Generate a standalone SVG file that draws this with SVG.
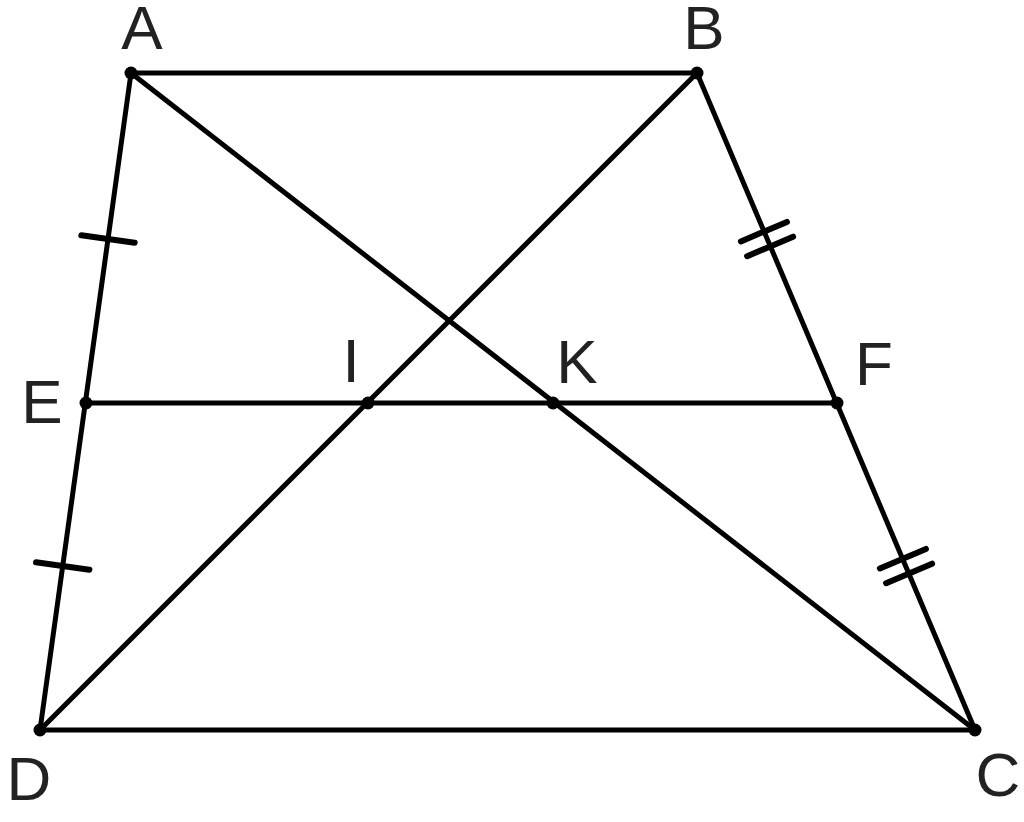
<svg xmlns="http://www.w3.org/2000/svg" width="1024" height="822" viewBox="0 0 1024 822">
<style>
.ln{stroke:#000;stroke-width:5;stroke-linecap:round;fill:none}
.tk{stroke:#000;stroke-width:6;stroke-linecap:round}
.pt{fill:#000}
.lb{font-family:"Liberation Sans",Arial,sans-serif;font-size:62px;fill:#222;text-anchor:middle}
</style>
<rect width="1024" height="822" fill="#fff"/>
<g id="connectors">
<line class="ln" x1="131" y1="73" x2="697" y2="73"/>
<line class="ln" x1="697" y1="73" x2="975" y2="730"/>
<line class="ln" x1="975" y1="730" x2="40" y2="730"/>
<line class="ln" x1="40" y1="730" x2="131" y2="73"/>
<line class="ln" x1="131" y1="73" x2="975" y2="730"/>
<line class="ln" x1="697" y1="73" x2="40" y2="730"/>
<line class="ln" x1="86" y1="403" x2="837" y2="403"/>
<line class="tk" x1="81.3" y1="235.3" x2="134.7" y2="242.7"/>
<line class="tk" x1="36" y1="562.3" x2="89.4" y2="569.7"/>
<line class="tk" x1="740.9" y1="241.4" x2="786.9" y2="221.9"/>
<line class="tk" x1="747.1" y1="256.2" x2="793.1" y2="236.7"/>
<line class="tk" x1="879.9" y1="568.4" x2="925.9" y2="548.9"/>
<line class="tk" x1="886.1" y1="583.2" x2="932.1" y2="563.7"/>
</g>
<g id="A"><circle class="pt" cx="131" cy="73" r="6.5"/><text class="lb" x="142" y="49">A</text></g>
<g id="B"><circle class="pt" cx="697" cy="73" r="6.5"/><text class="lb" x="704" y="49">B</text></g>
<g id="C"><circle class="pt" cx="975" cy="730" r="6.5"/><text class="lb" x="998" y="796">C</text></g>
<g id="D"><circle class="pt" cx="40" cy="730" r="6.5"/><text class="lb" x="29" y="800">D</text></g>
<g id="E"><circle class="pt" cx="86" cy="403" r="6.5"/><text class="lb" x="42" y="423">E</text></g>
<g id="F"><circle class="pt" cx="837" cy="403" r="6.5"/><text class="lb" x="874" y="385">F</text></g>
<g id="I"><circle class="pt" cx="368" cy="403" r="6.5"/><text class="lb" x="351" y="382">I</text></g>
<g id="K"><circle class="pt" cx="553" cy="403" r="6.5"/><text class="lb" x="577" y="383">K</text></g>
</svg>
